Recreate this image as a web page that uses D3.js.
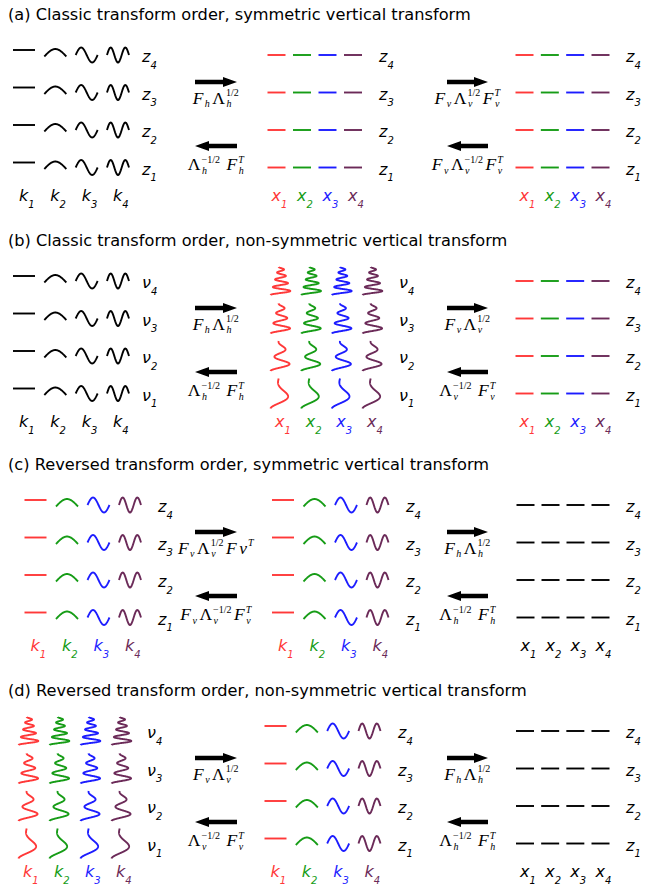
<!DOCTYPE html>
<meta charset="utf-8">
<style>
body { margin: 0; background: #fff; }
text { font-family: "DejaVu Sans", sans-serif; }
.title { font-size: 16.2px; }
.lab { font-style: italic; font-size: 16px; }
.mb { font-family: "Liberation Serif", serif; font-size: 17.5px; }
.glyph { fill: none; stroke-width: 1.9px; stroke-linecap: butt; stroke-linejoin: round; }
</style>
<svg width="645" height="888"></svg>
<script src="https://d3js.org/d3.v7.min.js"></script>
<script>

var titles = [
  "(a) Classic transform order, symmetric vertical transform",
  "(b) Classic transform order, non-symmetric vertical transform",
  "(c) Reversed transform order, symmetric vertical transform",
  "(d) Reversed transform order, non-symmetric vertical transform"
];
var modes = [1, 2, 3, 4];
var rows = [4, 3, 2, 1];
var colColors = ["#ff3838", "#169c16", "#1c1cff", "#6b2a58"];

// k = horizontal modes, v = vertical modes, d = flat dashes
var blockKinds = [["k", "d", "d"], ["k", "v", "d"], ["k", "k", "d"], ["v", "k", "d"]];
var blockColored = [[false, true, true], [false, true, true], [true, true, false], [true, true, false]];
var rowSymbols = [["z", "z", "z"], ["ν", "ν", "z"], ["z", "z", "z"], ["ν", "z", "z"]];
var colSymbols = [["k", "x", "x"], ["k", "x", "x"], ["k", "k", "x"], ["k", "k", "x"]];

var fwdLabels = [
  ["F_h Λ_h^1/2", "F_v Λ_v^1/2 F_v^T"],
  ["F_h Λ_h^1/2", "F_v Λ_v^1/2"],
  ["F_v Λ_v^1/2 F v^T", "F_h Λ_h^1/2"],
  ["F_v Λ_v^1/2", "F_h Λ_h^1/2"]
];
var invLabels = [
  ["Λ_h^−1/2 ~ F_h^T", "F_v Λ_v^−1/2 F_v^T"],
  ["Λ_h^−1/2 ~ F_h^T", "Λ_v^−1/2 ~ F_v^T"],
  ["F_v Λ_v^−1/2 F_v^T", "Λ_h^−1/2 ~ F_h^T"],
  ["Λ_v^−1/2 ~ F_v^T", "Λ_h^−1/2 ~ F_h^T"]
];

// layout
var panelTop = [0, 226, 450, 676];
var colRanges = [
  [[24, 118], [276.5, 353], [524.5, 600.5]],
  [[24, 118], [280, 372], [524.5, 600.5]],
  [[35.5, 130], [283, 377.5], [525.5, 600.5]],
  [[28, 121], [275.5, 369.5], [525, 600.5]]
];
var rowLabelX = [[142, 379, 626], [142, 399, 626], [158, 406, 626], [147, 398, 626]];
var arrowX = [[195, 237], [447, 488]];

var svg = d3.select("svg");
var y = d3.scalePoint().domain(rows).range([55, 167.5]);
var line = d3.line();

function kGlyph(n, cx, cy) {
  var w = 22;
  var pts = d3.range(0, 1.0001, 1 / 40).map(function(t) {
    var yy;
    if (n === 1) yy = cy - 5;
    else if (n === 2) yy = cy + 1.5 - 7.5 * Math.sin(Math.PI * t);
    else yy = cy - 7.5 * Math.sin((n - 1) * Math.PI * t);
    return [cx - w / 2 + w * t, yy];
  });
  return line(pts);
}

// vertical modes: oscillations tighter and weaker near the top
var stretch = { 1: 1.25, 2: 1.05, 3: 0.95, 4: 0.85 };
function vGlyph(n, cx, cy) {
  var h = n === 4 ? 28 : 30;
  var pts = d3.range(0, 1.0001, 1 / 200).map(function(t) {
    var amp = 10.5 * (0.22 + 0.78 * t);
    var s = Math.pow(t, stretch[n]);
    return [cx + 1 - amp * Math.cos(2 * n * Math.PI * s), cy - h / 2 + h * t];
  });
  return line(pts);
}

function dGlyph(n, cx, cy) {
  return line([[cx - 9, cy], [cx + 9, cy]]);
}

function symLabel(g, x, yb, sym, idx, color) {
  var t = g.append("text").attr("class", "lab")
      .attr("x", x).attr("y", yb).attr("fill", color);
  t.append("tspan").text(sym);
  t.append("tspan").attr("dy", 6.5).attr("font-size", 10).text(idx);
}

function mathLabel(g, cx, yb, src) {
  var grp = g.append("g");
  var x = 0;
  src.split(" ").forEach(function(tok) {
    if (tok === "~") { x += 4; return; }
    var m = tok.match(/^([^_^]+)(?:_([^_^]+))?(?:\^(.+))?$/);
    var base = grp.append("text").attr("class", "mb")
        .attr("x", x).attr("y", yb)
        .style("font-style", m[1] === "Λ" ? "normal" : "italic")
        .text(m[1]);
    x += base.node().getComputedTextLength();
    var sw = 0;
    if (m[2]) {
      var s = grp.append("text").attr("class", "mb")
          .attr("x", x + 1.5).attr("y", yb + 3.5)
          .style("font-size", "10px").style("font-style", "italic")
          .text(m[2]);
      sw = s.node().getComputedTextLength() + 1.5;
    }
    if (m[3]) {
      var p = grp.append("text").attr("class", "mb")
          .attr("x", x + 1).attr("y", yb - 7.5)
          .style("font-size", "10px").style("font-style", m[3] === "T" ? "italic" : "normal")
          .text(m[3]);
      sw = Math.max(sw, p.node().getComputedTextLength() + 1);
    }
    x += sw + 2.5;
  });
  grp.attr("transform", "translate(" + (cx - x / 2) + ",0)");
}

function arrow(g, x0, x1, yy, dir) {
  var head = 14, hh = 5, th = 2.2;
  var pts = dir > 0
    ? [[x0, yy - th], [x1 - head, yy - th], [x1 - head, yy - hh], [x1, yy], [x1 - head, yy + hh], [x1 - head, yy + th], [x0, yy + th]]
    : [[x1, yy - th], [x0 + head, yy - th], [x0 + head, yy - hh], [x0, yy], [x0 + head, yy + hh], [x0 + head, yy + th], [x1, yy + th]];
  g.append("path").attr("d", line(pts) + "Z").attr("fill", "#000");
}

var glyphFn = { k: kGlyph, v: vGlyph, d: dGlyph };

titles.forEach(function(title, p) {
  var g = svg.append("g").attr("transform", "translate(0," + panelTop[p] + ")");

  g.append("text").attr("class", "title").attr("x", 8).attr("y", 19.5).text(title);

  blockKinds[p].forEach(function(kind, b) {
    var x = d3.scaleLinear().domain([1, 4]).range(colRanges[p][b]);
    var colour = function(n) { return blockColored[p][b] ? colColors[n - 1] : "#000"; };
    var bg = g.append("g");

    rows.forEach(function(r) {
      bg.selectAll(null)
        .data(modes)
        .enter().append("path")
          .attr("class", "glyph")
          .attr("stroke", colour)
          .attr("d", function(n) {
            return glyphFn[kind](kind === "v" ? r : n, x(n), y(r));
          });
      symLabel(bg, rowLabelX[p][b], y(r) + 7, rowSymbols[p][b], r, "#000");
    });

    modes.forEach(function(n) {
      symLabel(bg, x(n) - 5, 201, colSymbols[p][b], n, colour(n));
    });
  });

  arrowX.forEach(function(ax, a) {
    arrow(g, ax[0], ax[1], 82, 1);
    arrow(g, ax[0], ax[1], 146, -1);
    var cx = (ax[0] + ax[1]) / 2 + 1;
    mathLabel(g, cx, 103.5, fwdLabels[p][a]);
    mathLabel(g, cx, 170, invLabels[p][a]);
  });
});

</script>
